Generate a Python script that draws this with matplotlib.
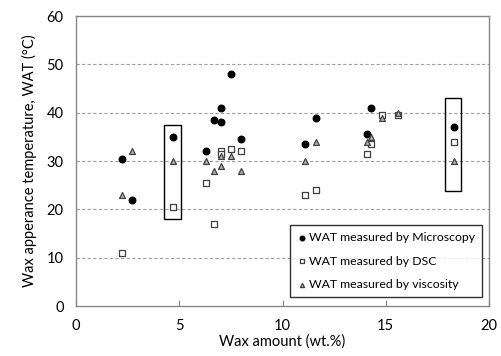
import matplotlib
matplotlib.use("Agg")
import matplotlib.pyplot as plt
from matplotlib.patches import Rectangle

plt.rcParams['font.family'] = ['Lato', 'DejaVu Sans']

micro_x = [2.2, 2.7, 4.7, 6.3, 6.7, 7.0, 7.0, 7.5, 8.0, 11.1, 11.6, 14.1, 14.3, 18.3]
micro_y = [30.5, 22.0, 35.0, 32.0, 38.5, 41.0, 38.0, 48.0, 34.5, 33.5, 39.0, 35.5, 41.0, 37.0]

dsc_x = [2.2, 4.7, 6.3, 6.7, 7.0, 7.0, 7.5, 8.0, 11.1, 11.6, 14.1, 14.3, 14.8, 15.6, 18.3]
dsc_y = [11.0, 20.5, 25.5, 17.0, 32.0, 31.5, 32.5, 32.0, 23.0, 24.0, 31.5, 33.5, 39.5, 39.5, 34.0]

visc_x = [2.2, 2.7, 4.7, 6.3, 6.7, 7.0, 7.0, 7.5, 8.0, 11.1, 11.6, 14.1, 14.3, 14.8, 15.6, 18.3]
visc_y = [23.0, 32.0, 30.0, 30.0, 28.0, 31.0, 29.0, 31.0, 28.0, 30.0, 34.0, 34.0, 35.0, 39.0, 40.0, 30.0]

# highlighted groups: (x_min, x_max, y_min, y_max)
boxes = [(4.25, 5.1, 18.0, 37.5), (17.85, 18.65, 23.8, 43.1)]

fig = plt.figure(figsize=(5.01, 3.56), dpi=100)
ax = fig.add_axes([0.152, 0.140, 0.824, 0.815])

grey = '#868686'
for y in [10, 20, 30, 40, 50]:
    ax.axhline(y, color='#a0a0a0', linestyle=(0, (3, 2)), linewidth=0.8, zorder=0)

ax.scatter(micro_x, micro_y, marker='o', s=22, color='black', zorder=3,
           label='WAT measured by Microscopy')
ax.scatter(dsc_x, dsc_y, marker='s', s=22, facecolor='white', edgecolor='#404040',
           linewidths=0.9, zorder=3, label='WAT measured by DSC')
ax.scatter(visc_x, visc_y, marker='^', s=18, facecolor='#b0b0b0', edgecolor='#404040',
           linewidths=0.9, zorder=4, label='WAT measured by viscosity')

for x0, x1, y0, y1 in boxes:
    ax.add_patch(Rectangle((x0, y0), x1 - x0, y1 - y0, fill=False,
                           edgecolor='black', linewidth=1.0, zorder=2))

ax.set_xlim(0, 20)
ax.set_ylim(0, 60)
ax.set_xticks([0, 5, 10, 15, 20])
ax.set_yticks([0, 10, 20, 30, 40, 50, 60])
ax.tick_params(axis='x', direction='in', length=4, color=grey, labelsize=10.5, pad=9)
ax.tick_params(axis='y', length=0, labelsize=10.5, pad=9)
for s in ax.spines.values():
    s.set_color(grey)
    s.set_linewidth(1.0)

ax.set_xlabel('Wax amount (wt.%)', fontsize=10.5, labelpad=1)
ax.set_ylabel('Wax apperance temperature, WAT (°C)', fontsize=10.5, labelpad=7)

leg = ax.legend(loc='lower right', fontsize=8.8, frameon=True, fancybox=False,
                edgecolor='black', markerscale=0.7, handletextpad=0.05,
                handlelength=1.0, borderpad=0.55, labelspacing=1.05,
                borderaxespad=0.0, bbox_to_anchor=(0.983, 0.031))
leg.get_frame().set_linewidth(1.0)

fig.savefig('out.png', dpi=100)
